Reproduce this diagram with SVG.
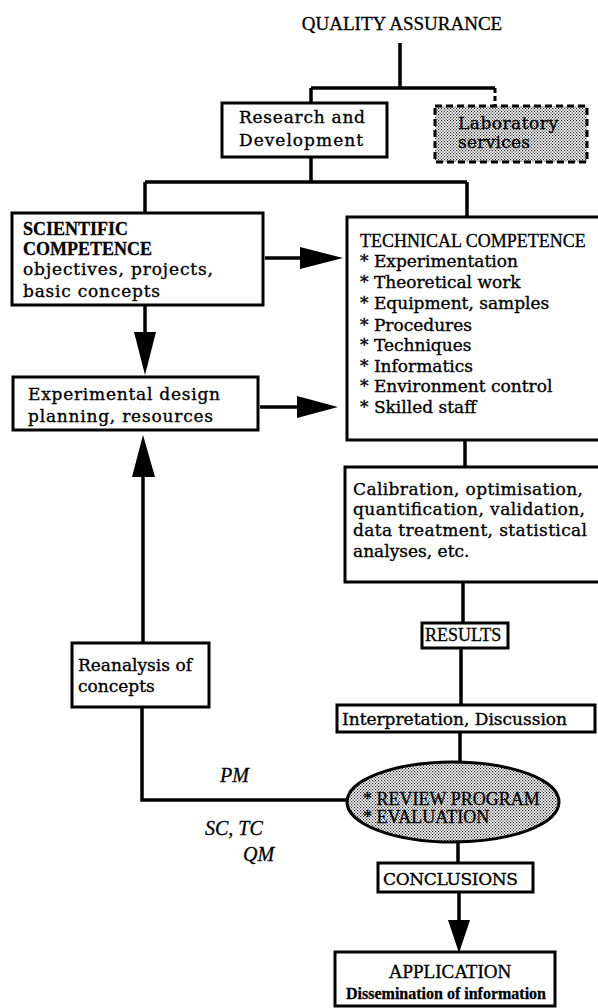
<svg xmlns="http://www.w3.org/2000/svg" width="598" height="1008" viewBox="0 0 598 1008">
<style>
.bx{fill:#fff;stroke:#000;stroke-width:3}
.ln{fill:none;stroke:#000;stroke-width:3.5}
.hd{fill:#000;stroke:none}
.t{font-family:"DejaVu Serif",serif;font-size:17px;fill:#000;stroke:#000;stroke-width:0.35}
.tm{font-family:"Liberation Serif",serif;font-size:18px;fill:#000;stroke:#000;stroke-width:0.3}
.it{font-family:"Liberation Serif",serif;font-size:20px;font-style:italic;fill:#000;stroke:#000;stroke-width:0.3}
</style>
<defs>
<pattern id="dots" width="3" height="3" patternUnits="userSpaceOnUse">
<rect width="3" height="3" fill="#fff"/>
<rect x="0" y="0" width="1.2" height="1.2" fill="#222"/>
<rect x="1.5" y="1.5" width="1.2" height="1.2" fill="#222"/>
</pattern>
</defs>
<g id="connectors">
<path class="ln" d="M400 43V88M311 88H495M311 88V103"/>
<path d="M495 88V106" fill="none" stroke="#000" stroke-width="3" stroke-dasharray="5 3"/>
<path class="ln" d="M311 157V182M145 182H467M145 182V213M467 182V217"/>
<path class="ln" d="M265 258H302"/><polygon class="hd" points="300,247 343,258 300,269"/>
<path class="ln" d="M145 305V334"/><polygon class="hd" points="134,332 156,332 145,375"/>
<path class="ln" d="M260 407H299"/><polygon class="hd" points="297,396 338,407 297,418"/>
<path class="ln" d="M143 643V475"/><polygon class="hd" points="132,477 155,477 143,435"/>
<path class="ln" d="M465 440V467M463 582V623M461 648V705M460 732V762M458 842V863"/>
<path class="ln" d="M459 892V922"/><polygon class="hd" points="448,920 470,920 459,953"/>
<path class="ln" d="M142 707V800H347"/>
</g>
<text class="tm" x="402" y="30" text-anchor="middle" style="font-size:19px">QUALITY ASSURANCE</text>
<g id="rnd"><rect class="bx" x="222" y="103" width="165" height="54"/>
<text class="t" x="239" y="123" textLength="126">Research and</text><text class="t" x="239" y="146" textLength="124">Development</text></g>
<g id="lab"><rect x="435" y="106" width="152" height="56" fill="url(#dots)" stroke="#000" stroke-width="3" stroke-dasharray="7 4"/>
<text class="t" x="458" y="129" textLength="100">Laboratory</text><text class="t" x="458" y="148" textLength="72">services</text></g>
<g id="sc"><rect class="bx" x="12" y="213" width="251" height="92"/>
<text class="tm" x="23" y="235" font-weight="bold">SCIENTIFIC</text>
<text class="tm" x="23" y="255" font-weight="bold">COMPETENCE</text>
<text class="t" x="23" y="275" textLength="190">objectives, projects,</text>
<text class="t" x="23" y="297" textLength="137">basic concepts</text></g>
<g id="tc"><rect class="bx" x="347" y="217" width="262" height="223"/>
<text class="tm" x="360" y="247">TECHNICAL COMPETENCE</text>
<g class="t">
<text x="360" y="267">* Experimentation</text>
<text x="360" y="288">* Theoretical work</text>
<text x="360" y="309">* Equipment, samples</text>
<text x="360" y="331">* Procedures</text>
<text x="360" y="351">* Techniques</text>
<text x="360" y="372">* Informatics</text>
<text x="360" y="392">* Environment control</text>
<text x="360" y="413">* Skilled staff</text></g></g>
<g id="exp"><rect class="bx" x="13" y="377" width="245" height="53"/>
<text class="t" x="28" y="400" textLength="192">Experimental design</text><text class="t" x="28" y="422" textLength="185">planning, resources</text></g>
<g id="calib"><rect class="bx" x="345" y="467" width="262" height="115"/>
<text class="t" x="353" y="495" textLength="230">Calibration, optimisation,</text>
<text class="t" x="353" y="515" textLength="232">quantification, validation,</text>
<text class="t" x="353" y="536" textLength="234">data treatment, statistical</text>
<text class="t" x="353" y="557">analyses, etc.</text></g>
<g id="results"><rect class="bx" x="422" y="623" width="86" height="25"/>
<text class="tm" x="425" y="641">RESULTS</text></g>
<g id="interp"><rect class="bx" x="337" y="705" width="258" height="27"/>
<text class="t" x="342" y="725" textLength="225">Interpretation, Discussion</text></g>
<g id="review"><ellipse cx="453" cy="802" rx="106" ry="40" fill="url(#dots)" stroke="#000" stroke-width="3"/>
<text class="tm" x="363" y="805">* REVIEW PROGRAM</text>
<text class="tm" x="363" y="823">* EVALUATION</text></g>
<g id="concl"><rect class="bx" x="378" y="863" width="155" height="29"/>
<text class="t" x="383" y="885" textLength="135">CONCLUSIONS</text></g>
<g id="app"><rect class="bx" x="335" y="952" width="220" height="54"/>
<text class="tm" x="450" y="978" text-anchor="middle" style="font-size:19px">APPLICATION</text>
<text class="tm" x="446" y="999" text-anchor="middle" style="font-size:16px;font-weight:bold">Dissemination of information</text></g>
<g id="reanal"><rect class="bx" x="72" y="643" width="137" height="64"/>
<text class="t" x="78" y="671">Reanalysis of</text><text class="t" x="78" y="692">concepts</text></g>
<text class="it" x="220" y="782">PM</text>
<text class="it" x="205" y="835">SC, TC</text>
<text class="it" x="243" y="861">QM</text>
</svg>
